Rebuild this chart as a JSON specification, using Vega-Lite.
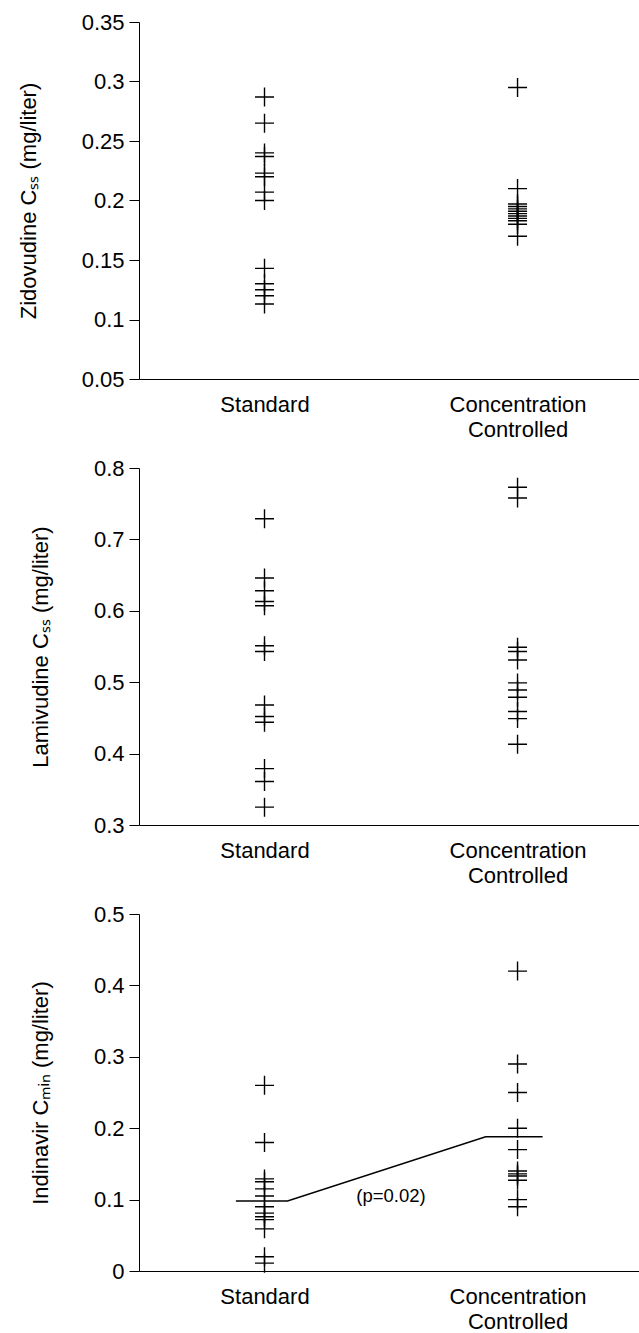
{
  "$schema": "https://vega.github.io/schema/vega-lite/v6.json",
  "background": "white",
  "padding": {"left": 17, "top": 11, "right": 0, "bottom": 0},
  "bounds": "flush",
  "spacing": 89,
  "config": {
    "view": {"stroke": null},
    "font": "Liberation Sans",
    "axis": {
      "grid": false,
      "domainColor": "black",
      "domainWidth": 1,
      "tickColor": "black",
      "labelColor": "black",
      "titleColor": "black",
      "labelFont": "Liberation Sans",
      "titleFont": "Liberation Sans",
      "titleFontWeight": "normal",
      "labelFontSize": 22,
      "titleFontSize": 22
    },
    "axisX": {
      "ticks": false,
      "tickSize": 0,
      "labelPadding": 15,
      "labelLineHeight": 25,
      "labelOverlap": false,
      "labelFlush": false,
      "title": null
    },
    "axisY": {
      "tickSize": 10,
      "labelPadding": 5,
      "titlePadding": 41,
      "format": "~g",
      "labelOverlap": false,
      "labelFlush": false
    }
  },
  "datasets": {
    "pts": [
      {"drug": "Zidovudine", "group": 1, "value": 0.287},
      {"drug": "Zidovudine", "group": 1, "value": 0.265},
      {"drug": "Zidovudine", "group": 1, "value": 0.240},
      {"drug": "Zidovudine", "group": 1, "value": 0.237},
      {"drug": "Zidovudine", "group": 1, "value": 0.223},
      {"drug": "Zidovudine", "group": 1, "value": 0.220},
      {"drug": "Zidovudine", "group": 1, "value": 0.207},
      {"drug": "Zidovudine", "group": 1, "value": 0.200},
      {"drug": "Zidovudine", "group": 1, "value": 0.143},
      {"drug": "Zidovudine", "group": 1, "value": 0.130},
      {"drug": "Zidovudine", "group": 1, "value": 0.125},
      {"drug": "Zidovudine", "group": 1, "value": 0.120},
      {"drug": "Zidovudine", "group": 1, "value": 0.113},
      {"drug": "Zidovudine", "group": 2, "value": 0.295},
      {"drug": "Zidovudine", "group": 2, "value": 0.210},
      {"drug": "Zidovudine", "group": 2, "value": 0.197},
      {"drug": "Zidovudine", "group": 2, "value": 0.195},
      {"drug": "Zidovudine", "group": 2, "value": 0.193},
      {"drug": "Zidovudine", "group": 2, "value": 0.191},
      {"drug": "Zidovudine", "group": 2, "value": 0.189},
      {"drug": "Zidovudine", "group": 2, "value": 0.187},
      {"drug": "Zidovudine", "group": 2, "value": 0.185},
      {"drug": "Zidovudine", "group": 2, "value": 0.183},
      {"drug": "Zidovudine", "group": 2, "value": 0.180},
      {"drug": "Zidovudine", "group": 2, "value": 0.170},
      {"drug": "Lamivudine", "group": 1, "value": 0.729},
      {"drug": "Lamivudine", "group": 1, "value": 0.646},
      {"drug": "Lamivudine", "group": 1, "value": 0.628},
      {"drug": "Lamivudine", "group": 1, "value": 0.613},
      {"drug": "Lamivudine", "group": 1, "value": 0.607},
      {"drug": "Lamivudine", "group": 1, "value": 0.551},
      {"drug": "Lamivudine", "group": 1, "value": 0.543},
      {"drug": "Lamivudine", "group": 1, "value": 0.468},
      {"drug": "Lamivudine", "group": 1, "value": 0.452},
      {"drug": "Lamivudine", "group": 1, "value": 0.444},
      {"drug": "Lamivudine", "group": 1, "value": 0.379},
      {"drug": "Lamivudine", "group": 1, "value": 0.361},
      {"drug": "Lamivudine", "group": 1, "value": 0.325},
      {"drug": "Lamivudine", "group": 2, "value": 0.773},
      {"drug": "Lamivudine", "group": 2, "value": 0.758},
      {"drug": "Lamivudine", "group": 2, "value": 0.549},
      {"drug": "Lamivudine", "group": 2, "value": 0.543},
      {"drug": "Lamivudine", "group": 2, "value": 0.531},
      {"drug": "Lamivudine", "group": 2, "value": 0.499},
      {"drug": "Lamivudine", "group": 2, "value": 0.489},
      {"drug": "Lamivudine", "group": 2, "value": 0.479},
      {"drug": "Lamivudine", "group": 2, "value": 0.459},
      {"drug": "Lamivudine", "group": 2, "value": 0.449},
      {"drug": "Lamivudine", "group": 2, "value": 0.413},
      {"drug": "Indinavir", "group": 1, "value": 0.260},
      {"drug": "Indinavir", "group": 1, "value": 0.180},
      {"drug": "Indinavir", "group": 1, "value": 0.129},
      {"drug": "Indinavir", "group": 1, "value": 0.125},
      {"drug": "Indinavir", "group": 1, "value": 0.115},
      {"drug": "Indinavir", "group": 1, "value": 0.105},
      {"drug": "Indinavir", "group": 1, "value": 0.090},
      {"drug": "Indinavir", "group": 1, "value": 0.081},
      {"drug": "Indinavir", "group": 1, "value": 0.076},
      {"drug": "Indinavir", "group": 1, "value": 0.072},
      {"drug": "Indinavir", "group": 1, "value": 0.059},
      {"drug": "Indinavir", "group": 1, "value": 0.020},
      {"drug": "Indinavir", "group": 1, "value": 0.011},
      {"drug": "Indinavir", "group": 2, "value": 0.420},
      {"drug": "Indinavir", "group": 2, "value": 0.290},
      {"drug": "Indinavir", "group": 2, "value": 0.250},
      {"drug": "Indinavir", "group": 2, "value": 0.200},
      {"drug": "Indinavir", "group": 2, "value": 0.170},
      {"drug": "Indinavir", "group": 2, "value": 0.140},
      {"drug": "Indinavir", "group": 2, "value": 0.136},
      {"drug": "Indinavir", "group": 2, "value": 0.133},
      {"drug": "Indinavir", "group": 2, "value": 0.127},
      {"drug": "Indinavir", "group": 2, "value": 0.100},
      {"drug": "Indinavir", "group": 2, "value": 0.090}
    ],
    "median": [
      {"group": 0.887, "value": 0.098},
      {"group": 1.091, "value": 0.098},
      {"group": 1.874, "value": 0.188},
      {"group": 2.099, "value": 0.188}
    ],
    "note": [
      {"group": 1.5, "value": 0.105, "label": "(p=0.02)"}
    ]
  },
  "vconcat": [
    {
      "width": 500,
      "height": 357,
      "layer": [
        {
          "data": {"name": "pts"},
          "transform": [{"filter": "datum.drug == 'Zidovudine'"}],
          "mark": {"type": "point", "shape": "M-1,0L1,0M0,-1L0,1", "filled": false, "size": 361, "strokeWidth": 1.4, "color": "black", "opacity": 1},
          "encoding": {
            "x": {"field": "group", "type": "quantitative", "scale": {"domain": [0.504, 2.48], "nice": false, "zero": false},
                  "axis": {"values": [1, 2], "labelExpr": "datum.value == 1 ? 'Standard' : ['Concentration', 'Controlled']"}},
            "y": {"field": "value", "type": "quantitative", "scale": {"domain": [0.05, 0.35], "nice": false, "zero": false},
                  "axis": {"values": [0.05, 0.1, 0.15, 0.2, 0.25, 0.3, 0.35], "title": "Zidovudine Cₛₛ  (mg/liter)"}}
          }
        },
        {
          "mark": {"type": "rule", "color": "black", "strokeWidth": 1},
          "encoding": {"y": {"datum": 0.35, "type": "quantitative"}}
        }
      ]
    },
    {
      "width": 500,
      "height": 357,
      "layer": [
        {
          "data": {"name": "pts"},
          "transform": [{"filter": "datum.drug == 'Lamivudine'"}],
          "mark": {"type": "point", "shape": "M-1,0L1,0M0,-1L0,1", "filled": false, "size": 361, "strokeWidth": 1.4, "color": "black", "opacity": 1},
          "encoding": {
            "x": {"field": "group", "type": "quantitative", "scale": {"domain": [0.504, 2.48], "nice": false, "zero": false},
                  "axis": {"values": [1, 2], "labelExpr": "datum.value == 1 ? 'Standard' : ['Concentration', 'Controlled']"}},
            "y": {"field": "value", "type": "quantitative", "scale": {"domain": [0.3, 0.8], "nice": false, "zero": false},
                  "axis": {"values": [0.3, 0.4, 0.5, 0.6, 0.7, 0.8], "title": "Lamivudine Cₛₛ  (mg/liter)"}}
          }
        },
        {
          "mark": {"type": "rule", "color": "black", "strokeWidth": 1},
          "encoding": {"y": {"datum": 0.8, "type": "quantitative"}}
        }
      ]
    },
    {
      "width": 500,
      "height": 357,
      "layer": [
        {
          "data": {"name": "pts"},
          "transform": [{"filter": "datum.drug == 'Indinavir'"}],
          "mark": {"type": "point", "shape": "M-1,0L1,0M0,-1L0,1", "filled": false, "size": 361, "strokeWidth": 1.4, "color": "black", "opacity": 1},
          "encoding": {
            "x": {"field": "group", "type": "quantitative", "scale": {"domain": [0.504, 2.48], "nice": false, "zero": false},
                  "axis": {"values": [1, 2], "labelExpr": "datum.value == 1 ? 'Standard' : ['Concentration', 'Controlled']"}},
            "y": {"field": "value", "type": "quantitative", "scale": {"domain": [0, 0.5], "nice": false, "zero": false},
                  "axis": {"values": [0, 0.1, 0.2, 0.3, 0.4, 0.5], "title": "Indinavir Cₘᵢₙ  (mg/liter)"}}
          }
        },
        {
          "data": {"name": "median"},
          "mark": {"type": "line", "color": "black", "strokeWidth": 1.4},
          "encoding": {
            "x": {"field": "group", "type": "quantitative"},
            "y": {"field": "value", "type": "quantitative"}
          }
        },
        {
          "data": {"name": "note"},
          "mark": {"type": "text", "font": "Liberation Sans", "fontSize": 18.5, "color": "black"},
          "encoding": {
            "x": {"field": "group", "type": "quantitative"},
            "y": {"field": "value", "type": "quantitative"},
            "text": {"field": "label"}
          }
        },
        {
          "mark": {"type": "rule", "color": "black", "strokeWidth": 1},
          "encoding": {"y": {"datum": 0.5, "type": "quantitative"}}
        }
      ]
    }
  ]
}
